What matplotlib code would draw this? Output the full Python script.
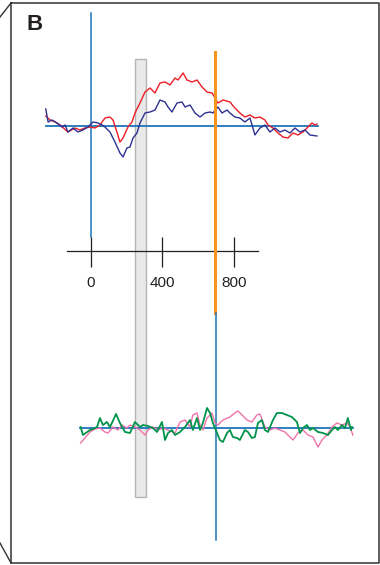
import matplotlib
matplotlib.use("Agg")
import matplotlib.pyplot as plt
from matplotlib.patches import Rectangle
import numpy as np

plt.rcParams['font.family'] = ['Liberation Sans', 'DejaVu Sans']

# time (ms) and amplitude (arbitrary units) of the upper ERP traces
t_red = [-253, -229, -201, -173, -129, -89, -62, -34, -6, 22, 50, 78, 106, 123, 145, 162, 179,
         207, 229, 246, 274, 302, 330, 358, 386, 414, 442, 470, 487, 515, 537, 565, 593, 621,
         649, 677, 694, 710, 738, 777, 805, 833, 861, 889, 917, 945, 973, 990, 1018, 1046,
         1074, 1102, 1130, 1158, 1186, 1214, 1236, 1253, 1264]
a_red = [10, 6, 4, 1, -6, -2, -4, -2, -1, -2, 1, 8, 9, 6, -6, -16, -12,
         -1, 4, 13, 23, 34, 38, 33, 43, 44, 41, 48, 46, 53, 46, 44, 46, 39,
         34, 33, 28, 23, 26, 24, 18, 13, 9, 11, 8, 9, 6, 1, -2, -7,
         -11, -12, -7, -9, -6, -1, 3, 1, 2]

t_navy = [-253, -240, -218, -190, -162, -145, -129, -101, -73, -45, -17, 11, 39, 62, 78, 106,
          134, 162, 179, 201, 218, 235, 257, 274, 302, 330, 358, 386, 414, 431, 453, 481, 509,
          526, 554, 582, 610, 638, 666, 682, 710, 733, 761, 777, 805, 833, 861, 889, 906, 917,
          945, 973, 1001, 1029, 1057, 1085, 1113, 1141, 1169, 1197, 1225, 1264]
a_navy = [17, 4, 6, 3, -1, 1, -6, -2, -6, -4, -1, 4, 3, 1, -1, -6,
          -16, -27, -31, -22, -21, -12, -7, 3, 13, 14, 16, 26, 24, 19, 14, 23, 24,
          19, 21, 13, 9, 13, 14, 13, 19, 13, 16, 13, 9, 8, 4, 8, -2, -9,
          -2, 1, -6, -2, -6, -4, -7, -2, -6, -4, -9, -10]

# lower traces
t_pink = [-58, -34, -6, 22, 50, 78, 95, 123, 151, 173, 201, 218, 246, 274, 302, 319, 347,
          375, 403, 431, 470, 498, 526, 554, 570, 593, 610, 626, 649, 677, 694, 710, 738,
          777, 805, 822, 845, 873, 900, 928, 945, 973, 1001, 1029, 1057, 1085, 1113, 1130,
          1158, 1186, 1214, 1242, 1270, 1292, 1320, 1348, 1376, 1404, 1432, 1449, 1465]
a_pink = [-15, -10, -4, -1, 0, -4, -5, 1, -2, 3, 0, 3, 1, -2, -7, -2, 1,
          -2, 0, -2, -5, 6, 8, 1, 13, 15, 3, -2, 10, 15, 5, 3, 8,
          11, 15, 17, 13, 8, 6, 13, 14, 1, -2, 0, -2, -4, -9, -12,
          -5, -2, -7, -9, -19, -12, -7, 1, 5, 3, 5, 1, -7]

t_green = [-58, -45, -22, -6, 11, 34, 50, 67, 89, 106, 117, 140, 162, 190, 218, 246, 274, 291,
           319, 347, 369, 397, 414, 431, 453, 470, 498, 526, 554, 570, 593, 610, 626, 649,
           666, 682, 705, 721, 738, 761, 777, 794, 817, 833, 861, 878, 900, 917, 934, 956,
           973, 990, 1018, 1040, 1068, 1096, 1124, 1152, 1169, 1186, 1208, 1225, 1242, 1270,
           1298, 1326, 1348, 1365, 1381, 1404, 1421, 1437, 1454, 1460]
a_green = [1, -7, -4, -2, -1, 1, 10, 3, 6, 1, 5, 14, 5, -4, -5, 6, 1, 3,
           2, 0, -4, 6, -12, -5, -2, -7, -4, 1, 8, -2, 10, -2, 5, 20,
           15, 5, -5, -12, -14, -5, -2, -9, -10, -12, -2, -4, -10, -9, 5, 8,
           -2, -4, 8, 15, 15, 13, 11, 6, -5, 0, 3, -2, 0, -4,
           -5, -7, -2, 1, -2, 3, 0, 10, -2, 1]

tick_times = [0, 400, 800]
tick_labels = ["0", "400", "800"]

BLUE = '#1c75bc'

fig = plt.figure(figsize=(3.8, 5.65), dpi=100)

# frame / decoration in pixel coordinates
ax_px = fig.add_axes([0, 0, 1, 1])
ax_px.set_xlim(0, 380)
ax_px.set_ylim(565, 0)
ax_px.axis('off')
ax_px.plot([11, 379, 379, 11, 11], [3, 3, 563, 563, 3], color='#333333', lw=1.1)
ax_px.plot([0, 11], [17, 3], color='#333333', lw=1.0)
ax_px.plot([0, 11], [543, 563], color='#333333', lw=1.0)
ax_px.text(26, 24, "B", fontsize=16, fontweight='bold', va='center', ha='left', color='#231f20')

# time scale: 0 ms at x=91 px, 800 ms at x=234 px
px_per_ms = (234 - 91) / 800.0
xl = (-91 / px_per_ms, (380 - 91) / px_per_ms)

# upper panel: amplitude 0 at y=126 px
ax = fig.add_axes([0, 0, 1, 1])
ax.patch.set_alpha(0)
ax.set_xlim(*xl)
ax.set_ylim(126 - 565, 126)
ax.axis('off')

# gray window
ax.add_patch(Rectangle((246, -371), 61, 438, facecolor='#e9e9e9', edgecolor='#b5b5b5', lw=1.0, zorder=1))

ax.plot([0, 0], [113, -111], color=BLUE, lw=1.1, zorder=2)
ax.plot([-253, 1270], [0, 0], color=BLUE, lw=1.3, zorder=2)
ax.plot(t_red, a_red, color='#ee1c25', lw=1.0, zorder=3)
ax.plot(t_navy, a_navy, color='#2e3192', lw=1.0, zorder=3)

# time axis
ax.plot([-134, 934], [-125, -125], color='#231f20', lw=0.9, zorder=2)
ax.vlines(tick_times, -111, -141, color='#231f20', lw=0.9, zorder=2)
for tt, lab in zip(tick_times, tick_labels):
    ax.text(tt, -157, lab, fontsize=11, ha='center', va='center', color='#231f20')

# lower panel: amplitude 0 at y=428 px
ax2 = fig.add_axes([0, 0, 1, 1])
ax2.patch.set_alpha(0)
ax2.set_xlim(*xl)
ax2.set_ylim(428 - 565, 428)
ax2.axis('off')
ax2.plot([700, 700], [115, -112], color=BLUE, lw=1.1, zorder=2)
ax2.plot([-62, 1466], [0, 0], color=BLUE, lw=1.3, zorder=2)
ax2.plot(t_pink, a_pink, color='#f173ac', lw=1.0, zorder=3)
ax2.plot(t_green, a_green, color='#00934a', lw=1.3, zorder=4)

# orange marker (on top)
ax.plot([694, 694], [74, -187], color='#f7941d', lw=2.2, zorder=5)

fig.savefig("out.png", dpi=100)
